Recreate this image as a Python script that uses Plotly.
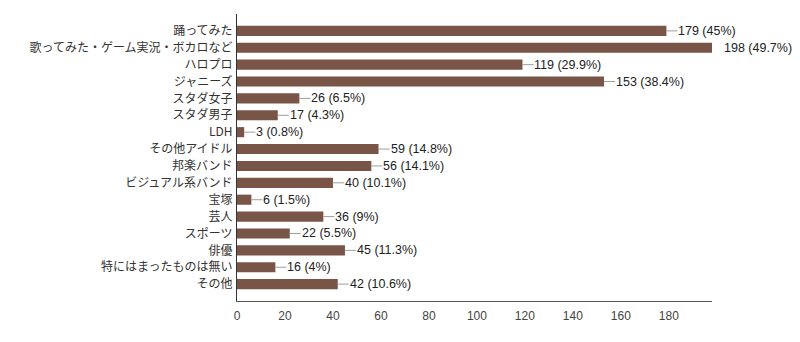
import plotly.graph_objects as go

# Survey answers (multiple choice) and their counts / shares
categories = [
    "踊ってみた", "歌ってみた・ゲーム実況・ボカロなど", "ハロプロ", "ジャニーズ",
    "スタダ女子", "スタダ男子", "LDH", "その他アイドル", "邦楽バンド",
    "ビジュアル系バンド", "宝塚", "芸人", "スポーツ", "俳優",
    "特にはまったものは無い", "その他",
]
counts = [179, 198, 119, 153, 26, 17, 3, 59, 56, 40, 6, 36, 22, 45, 16, 42]
shares = ["45%", "49.7%", "29.9%", "38.4%", "6.5%", "4.3%", "0.8%", "14.8%",
          "14.1%", "10.1%", "1.5%", "9%", "5.5%", "11.3%", "4%", "10.6%"]
x_ticks = [0, 20, 40, 60, 80, 100, 120, 140, 160, 180]

BAR = "#795548"
FONT = "Liberation Sans, Arial, Noto Sans CJK JP, sans-serif"
x_max = 198

fig = go.Figure(go.Bar(
    x=counts, y=categories, orientation="h",
    marker=dict(color=BAR, line=dict(width=0)),
    hoverinfo="skip",
))

# value labels with a short leader line from the bar end
for cat, n, s in zip(categories, counts, shares):
    fig.add_annotation(
        x=n, y=cat, xref="x", yref="y",
        text=f"{n} ({s})",
        showarrow=True, arrowhead=0, arrowwidth=1,
        arrowcolor="rgba(0,0,0,0)" if n >= x_max else "#9e9e9e",
        ax=11, ay=0, xanchor="left", yanchor="middle",
        font=dict(family=FONT, size=12.5, color="#222"),
        borderpad=0,
    )

fig.update_layout(
    width=800, height=342,
    margin=dict(l=237, r=88, t=14, b=41),
    paper_bgcolor="white", plot_bgcolor="white",
    bargap=0.4,
    showlegend=False,
    font=dict(family=FONT, size=12, color="#222"),
    xaxis=dict(
        range=[0, x_max], tickvals=x_ticks, showgrid=False, zeroline=False,
        showline=True, linecolor="#555", linewidth=1,
        ticks="", tickfont=dict(size=12, color="#444"),
        ticklabelstandoff=4,
    ),
    yaxis=dict(
        categoryorder="array", categoryarray=categories,
        range=[16, -1], showgrid=False, zeroline=False,
        showline=True, linecolor="#333", linewidth=1,
        ticks="", tickfont=dict(family="Noto Sans CJK JP, sans-serif", size=12, color="#333"),
        ticklabelstandoff=1,
    ),
)

fig.write_html("out.html")
